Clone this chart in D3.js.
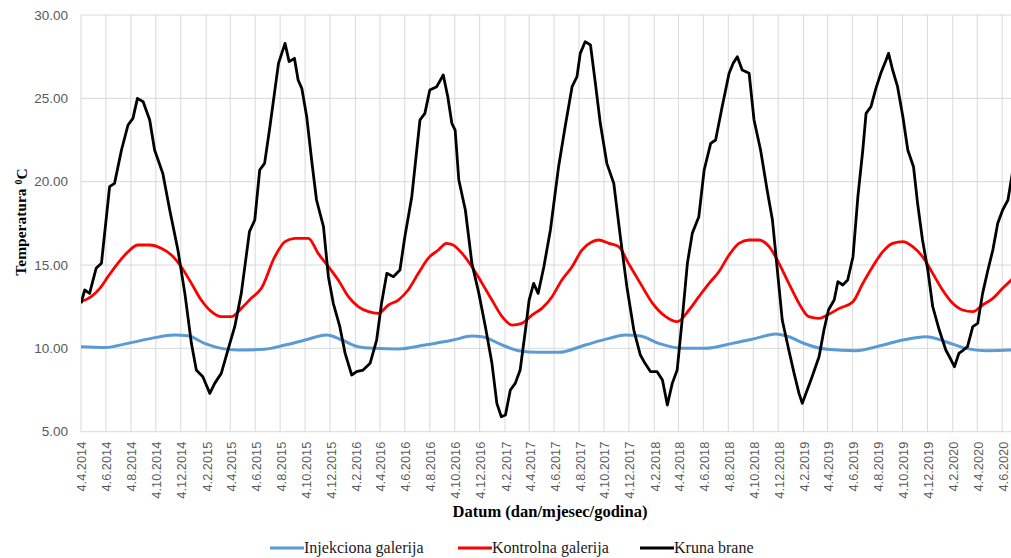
<!DOCTYPE html>
<html>
<head>
<meta charset="utf-8">
<script src="https://cdn.jsdelivr.net/npm/d3@7"></script>
<style>
  html, body { margin: 0; padding: 0; background: #fff; }
  svg { display: block; }
</style>
</head>
<body>
<svg id="chart" width="1011" height="558"></svg>
<script>
// ---------- DATA ----------
const xDomain = ["2014-04-04", "2020-07-15"];
const yTicks = [5, 10, 15, 20, 25, 30];
const xTickLabels = [
  "4.4.2014","4.6.2014","4.8.2014","4.10.2014","4.12.2014",
  "4.2.2015","4.4.2015","4.6.2015","4.8.2015","4.10.2015","4.12.2015",
  "4.2.2016","4.4.2016","4.6.2016","4.8.2016","4.10.2016","4.12.2016",
  "4.2.2017","4.4.2017","4.6.2017","4.8.2017","4.10.2017","4.12.2017",
  "4.2.2018","4.4.2018","4.6.2018","4.8.2018","4.10.2018","4.12.2018",
  "4.2.2019","4.4.2019","4.6.2019","4.8.2019","4.10.2019","4.12.2019",
  "4.2.2020","4.4.2020","4.6.2020"
];
const seriesNames = ["Injekciona galerija", "Kontrolna galerija", "Kruna brane"];

// Injekciona galerija (blue)
const injekciona = [
  ["2014-04-04",10.1],["2014-06-01",10.05],["2014-07-28",10.3],["2014-09-23",10.6],
  ["2014-11-19",10.8],["2014-12-22",10.75],["2015-01-31",10.3],["2015-03-13",10.0],
  ["2015-04-23",9.9],["2015-06-27",9.95],["2015-08-16",10.2],["2015-10-04",10.5],
  ["2015-11-26",10.8],["2016-01-02",10.5],["2016-02-11",10.1],["2016-03-23",10.0],
  ["2016-05-19",9.96],["2016-07-23",10.2],["2016-09-30",10.5],["2016-11-15",10.74],
  ["2016-12-10",10.7],["2017-01-28",10.2],["2017-03-09",9.86],["2017-04-27",9.76],
  ["2017-06-15",9.76],["2017-08-19",10.2],["2017-10-16",10.6],["2017-11-25",10.8],
  ["2018-01-01",10.74],["2018-02-15",10.3],["2018-04-14",10.0],["2018-06-10",10.0],
  ["2018-08-14",10.3],["2018-10-10",10.6],["2018-11-28",10.86],["2018-12-30",10.7],
  ["2019-02-09",10.26],["2019-04-03",9.94],["2019-06-12",9.86],["2019-08-08",10.14],
  ["2019-10-05",10.5],["2019-12-01",10.7],["2020-01-18",10.4],["2020-03-07",10.0],
  ["2020-04-25",9.86],["2020-06-26",9.9],["2020-07-10",9.92]
];

// Kontrolna galerija (red)
const kontrolna = [
  ["2014-04-04",12.8],["2014-04-29",13.1],["2014-05-20",13.6],["2014-06-09",14.3],
  ["2014-07-03",15.1],["2014-07-28",15.8],["2014-08-21",16.2],["2014-09-19",16.2],
  ["2014-10-17",16.0],["2014-11-11",15.6],["2014-12-05",14.9],["2014-12-30",13.9],
  ["2015-01-23",12.9],["2015-02-17",12.2],["2015-03-13",11.9],["2015-04-07",11.9],
  ["2015-05-01",12.4],["2015-05-25",13.0],["2015-06-19",13.6],["2015-07-22",15.5],
  ["2015-08-16",16.4],["2015-09-09",16.6],["2015-10-12",16.6],["2015-11-05",15.7],
  ["2015-11-30",14.9],["2015-12-24",14.1],["2016-01-18",13.1],["2016-02-11",12.5],
  ["2016-03-07",12.2],["2016-03-31",12.1],["2016-04-25",12.6],["2016-05-19",12.9],
  ["2016-06-12",13.5],["2016-07-07",14.5],["2016-07-31",15.4],["2016-08-25",15.9],
  ["2016-09-14",16.3],["2016-09-30",16.2],["2016-10-22",15.7],["2016-11-15",14.9],
  ["2016-12-10",13.9],["2017-01-03",12.9],["2017-01-28",11.9],["2017-02-21",11.4],
  ["2017-03-17",11.5],["2017-04-11",12.0],["2017-05-05",12.4],["2017-05-30",13.1],
  ["2017-06-23",14.1],["2017-07-18",14.9],["2017-08-11",15.9],["2017-09-05",16.4],
  ["2017-09-21",16.5],["2017-10-16",16.3],["2017-11-09",16.1],["2017-12-03",15.1],
  ["2018-01-01",13.9],["2018-01-31",12.7],["2018-03-04",11.9],["2018-04-01",11.6],
  ["2018-04-30",12.3],["2018-05-24",13.1],["2018-06-18",13.9],["2018-07-12",14.6],
  ["2018-08-06",15.6],["2018-08-30",16.3],["2018-09-24",16.5],["2018-10-18",16.5],
  ["2018-11-12",16.1],["2018-12-06",15.1],["2018-12-30",13.9],["2019-01-24",12.7],
  ["2019-02-17",11.9],["2019-03-14",11.8],["2019-04-03",12.0],["2019-05-03",12.4],
  ["2019-06-05",12.8],["2019-06-29",13.9],["2019-07-23",14.9],["2019-08-17",15.8],
  ["2019-09-10",16.3],["2019-10-05",16.4],["2019-10-29",16.1],["2019-11-22",15.5],
  ["2019-12-17",14.5],["2020-01-10",13.5],["2020-02-04",12.7],["2020-02-28",12.3],
  ["2020-03-24",12.2],["2020-04-17",12.6],["2020-05-12",13.0],["2020-06-05",13.6],
  ["2020-06-26",14.1],["2020-07-10",14.4]
];

// Kruna brane (black)
const kruna = [
  ["2014-04-04",12.7],["2014-04-13",13.5],["2014-04-25",13.3],["2014-05-11",14.8],
  ["2014-05-24",15.1],["2014-06-13",19.7],["2014-06-25",19.9],["2014-07-12",21.9],
  ["2014-07-28",23.4],["2014-08-09",23.8],["2014-08-20",25.0],["2014-09-03",24.8],
  ["2014-09-19",23.7],["2014-10-01",21.9],["2014-10-21",20.5],["2014-11-07",18.3],
  ["2014-11-27",15.9],["2014-12-14",13.3],["2014-12-30",10.3],["2015-01-11",8.7],
  ["2015-01-27",8.3],["2015-02-13",7.3],["2015-02-25",7.9],["2015-03-13",8.5],
  ["2015-04-03",10.3],["2015-04-15",11.3],["2015-05-01",13.3],["2015-05-21",17.0],
  ["2015-06-03",17.7],["2015-06-15",20.7],["2015-06-27",21.1],["2015-07-10",23.3],
  ["2015-07-31",27.1],["2015-08-16",28.3],["2015-08-26",27.2],["2015-09-08",27.4],
  ["2015-09-17",26.1],["2015-09-26",25.6],["2015-10-08",23.9],["2015-10-20",21.3],
  ["2015-11-01",18.9],["2015-11-18",17.3],["2015-11-30",14.3],["2015-12-12",12.7],
  ["2015-12-28",11.3],["2016-01-10",9.7],["2016-01-26",8.4],["2016-02-07",8.6],
  ["2016-02-23",8.7],["2016-03-11",9.1],["2016-03-27",10.5],["2016-04-08",12.7],
  ["2016-04-21",14.5],["2016-05-07",14.3],["2016-05-23",14.7],["2016-06-04",16.7],
  ["2016-06-21",19.1],["2016-07-11",23.7],["2016-07-23",24.1],["2016-08-04",25.5],
  ["2016-08-21",25.7],["2016-09-06",26.4],["2016-09-17",25.1],["2016-09-27",23.5],
  ["2016-10-05",23.1],["2016-10-14",20.1],["2016-10-30",18.3],["2016-11-15",15.1],
  ["2016-12-02",13.3],["2016-12-18",11.3],["2017-01-03",9.1],["2017-01-15",6.7],
  ["2017-01-26",5.9],["2017-02-05",6.0],["2017-02-17",7.5],["2017-03-01",7.9],
  ["2017-03-13",8.7],["2017-03-26",11.1],["2017-04-04",12.9],["2017-04-15",13.9],
  ["2017-04-26",13.3],["2017-05-10",14.9],["2017-05-26",17.1],["2017-06-15",20.9],
  ["2017-07-01",23.3],["2017-07-18",25.7],["2017-07-30",26.3],["2017-08-07",27.7],
  ["2017-08-19",28.4],["2017-09-01",28.2],["2017-09-13",25.9],["2017-09-25",23.5],
  ["2017-10-11",21.1],["2017-10-28",19.9],["2017-11-13",16.7],["2017-11-29",13.7],
  ["2017-12-16",11.1],["2018-01-01",9.6],["2018-01-10",9.2],["2018-01-26",8.6],
  ["2018-02-11",8.6],["2018-02-24",8.1],["2018-03-08",6.6],["2018-03-20",7.9],
  ["2018-04-01",8.7],["2018-04-14",11.9],["2018-04-26",15.1],["2018-05-08",16.9],
  ["2018-05-24",17.9],["2018-06-06",20.7],["2018-06-22",22.3],["2018-07-04",22.5],
  ["2018-07-20",24.5],["2018-08-06",26.5],["2018-08-16",27.1],["2018-08-26",27.5],
  ["2018-09-07",26.7],["2018-09-24",26.5],["2018-10-06",23.7],["2018-10-22",21.9],
  ["2018-11-07",19.5],["2018-11-20",17.7],["2018-12-02",14.7],["2018-12-14",11.7],
  ["2018-12-30",9.9],["2019-01-12",8.5],["2019-01-24",7.3],["2019-02-01",6.7],
  ["2019-02-13",7.5],["2019-02-25",8.3],["2019-03-14",9.5],["2019-03-26",11.1],
  ["2019-04-06",12.3],["2019-04-20",12.9],["2019-04-29",14.0],["2019-05-11",13.8],
  ["2019-05-23",14.1],["2019-06-05",15.5],["2019-06-17",19.1],["2019-06-29",21.9],
  ["2019-07-07",24.1],["2019-07-19",24.5],["2019-07-31",25.6],["2019-08-12",26.5],
  ["2019-08-25",27.3],["2019-08-31",27.7],["2019-09-10",26.7],["2019-09-22",25.7],
  ["2019-10-05",23.9],["2019-10-17",21.9],["2019-10-31",20.9],["2019-11-10",18.7],
  ["2019-11-22",16.5],["2019-12-05",14.7],["2019-12-17",12.5],["2020-01-02",11.1],
  ["2020-01-18",9.9],["2020-01-31",9.3],["2020-02-08",8.9],["2020-02-19",9.7],
  ["2020-03-01",9.9],["2020-03-11",10.1],["2020-03-24",11.3],["2020-04-05",11.5],
  ["2020-04-17",13.3],["2020-04-30",14.7],["2020-05-12",15.9],["2020-05-24",17.5],
  ["2020-06-05",18.3],["2020-06-18",18.9],["2020-06-26",20.1],["2020-07-06",21.6]
];

// ---------- CHART ----------
const W = 1011, H = 558;
const margin = { left: 81, right: -8, top: 15, bottom: 126.3 };
const svg = d3.select("#chart");
svg.append("rect").attr("width", W).attr("height", H).attr("fill", "#fff");

const parseISO = d3.timeParse("%Y-%m-%d");
const parseTick = d3.timeParse("%d.%m.%Y");

const x = d3.scaleTime()
  .domain(xDomain.map(parseISO))
  .range([margin.left, W - margin.right]);
const y = d3.scaleLinear()
  .domain([5, 30])
  .range([H - margin.bottom, margin.top]);

const gridColor = "#d9d9d9";
const tickDates = xTickLabels.map(parseTick);

// vertical gridlines
svg.append("g").selectAll("line").data(tickDates).join("line")
  .attr("x1", d => x(d)).attr("x2", d => x(d))
  .attr("y1", y(30)).attr("y2", y(5))
  .attr("stroke", gridColor).attr("stroke-width", 1);

// horizontal gridlines
svg.append("g").selectAll("line").data(yTicks).join("line")
  .attr("x1", margin.left).attr("x2", W - margin.right)
  .attr("y1", d => y(d)).attr("y2", d => y(d))
  .attr("stroke", gridColor).attr("stroke-width", 1);

// y axis labels
svg.append("g").selectAll("text").data(yTicks).join("text")
  .attr("x", 68).attr("y", d => y(d))
  .attr("dy", "0.35em")
  .attr("text-anchor", "end")
  .attr("font-family", "'Liberation Sans', Arial, sans-serif")
  .attr("font-size", "13.5px")
  .attr("fill", "#595959")
  .text(d => d3.format(".2f")(d));

// x axis labels
svg.append("g").selectAll("text").data(tickDates).join("text")
  .attr("transform", d => `translate(${x(d) + 1},${y(5) + 10}) rotate(-90)`)
  .attr("dy", "0.35em")
  .attr("text-anchor", "end")
  .attr("font-family", "'Liberation Sans', Arial, sans-serif")
  .attr("font-size", "12.8px")
  .attr("fill", "#595959")
  .text((d, i) => xTickLabels[i]);

// clip
svg.append("clipPath").attr("id", "plotclip").append("rect")
  .attr("x", margin.left).attr("y", 0)
  .attr("width", W - margin.right - margin.left).attr("height", H - margin.bottom + 10);

const line = (curve) => d3.line()
  .x(d => x(parseISO(d[0])))
  .y(d => y(d[1]))
  .curve(curve);

const plot = svg.append("g").attr("clip-path", "url(#plotclip)");
plot.append("path").datum(injekciona)
  .attr("d", line(d3.curveMonotoneX))
  .attr("fill", "none").attr("stroke", "#5b9bd5").attr("stroke-width", 3);
plot.append("path").datum(kontrolna)
  .attr("d", line(d3.curveMonotoneX))
  .attr("fill", "none").attr("stroke", "#ff0000").attr("stroke-width", 2.8);
plot.append("path").datum(kruna)
  .attr("d", line(d3.curveLinear))
  .attr("fill", "none").attr("stroke", "#000").attr("stroke-width", 2.8)
  .attr("stroke-linejoin", "round");

// axis titles
svg.append("text")
  .attr("x", 550).attr("y", 517)
  .attr("text-anchor", "middle")
  .attr("font-family", "'Liberation Serif', 'Times New Roman', serif")
  .attr("font-weight", "bold")
  .attr("font-size", "16.5px")
  .attr("fill", "#000")
  .text("Datum (dan/mjesec/godina)");

const yTitle = svg.append("text")
  .attr("transform", "translate(21,222) rotate(-90)")
  .attr("dy", "0.35em")
  .attr("text-anchor", "middle")
  .attr("font-family", "'Liberation Serif', 'Times New Roman', serif")
  .attr("font-weight", "bold")
  .attr("font-size", "15.5px")
  .attr("fill", "#000");
yTitle.append("tspan").text("Temperatura ");
yTitle.append("tspan").attr("font-size", "10px").attr("dy", "-0.45em").text("0");
yTitle.append("tspan").attr("dy", "0.3em").text("C");

// legend
const legendColors = ["#5b9bd5", "#ff0000", "#000"];
const legendX = [270, 458, 640];
const legend = svg.append("g");
seriesNames.forEach((name, i) => {
  const g = legend.append("g").attr("transform", `translate(${legendX[i]},548)`);
  g.append("line").attr("x1", 0).attr("x2", 34).attr("y1", 0).attr("y2", 0)
    .attr("stroke", legendColors[i]).attr("stroke-width", 3);
  g.append("text").attr("x", 34).attr("dy", "0.33em")
    .attr("font-family", "'Liberation Serif', 'Times New Roman', serif")
    .attr("font-size", "16px")
    .attr("fill", "#1a1a1a")
    .text(name);
});
</script>
</body>
</html>
